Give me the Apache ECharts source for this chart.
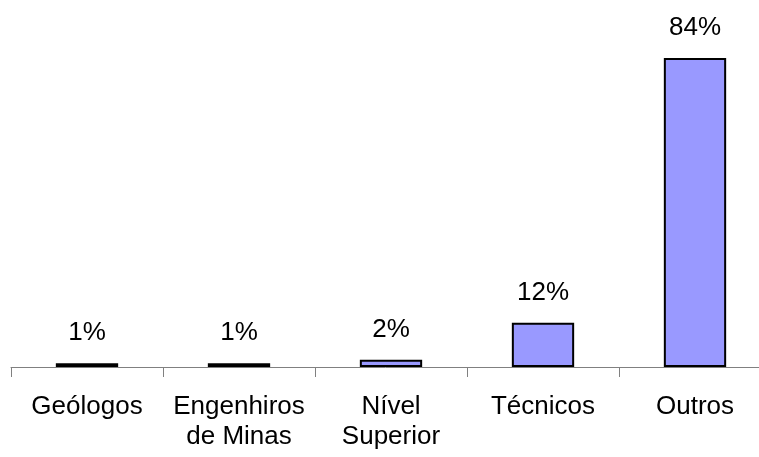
<!DOCTYPE html>
<html>
<head>
<meta charset="utf-8">
<script src="https://cdn.jsdelivr.net/npm/echarts@6/dist/echarts.min.js"></script>
<style>
  html, body { margin: 0; padding: 0; background: #fff; }
  #chart { width: 759px; height: 457px; }
</style>
</head>
<body>
<div id="chart"></div>
<script>
// categorias e percentuais
const categories = ['Geólogos', 'Engenhiros\nde Minas', 'Nível\nSuperior', 'Técnicos', 'Outros']
const values = [1, 1, 2, 12, 84]

const chart = echarts.init(document.getElementById('chart'))
const font = 'Liberation Sans, Arial, sans-serif'

const option = {
  animation: false,
  grid: {
    left: 11,
    width: 760,
    top: 36,
    bottom: 90,
    containLabel: false,
    outerBoundsMode: 'none'
  },
  xAxis: {
    type: 'category',
    data: categories,
    axisLine: { show: true, lineStyle: { color: '#808080', width: 1 } },
    axisTick: { show: true, interval: 0, length: 10, lineStyle: { color: '#808080', width: 1 } },
    axisLabel: {
      interval: 0,
      margin: 25,
      color: '#000',
      fontSize: 26,
      lineHeight: 30,
      fontFamily: font
    }
  },
  yAxis: {
    type: 'value',
    min: 0,
    max: 90,
    show: false
  },
  series: [
    {
      type: 'bar',
      data: values,
      barWidth: '41%',
      itemStyle: {
        color: '#9999FF',
        borderColor: '#000',
        borderWidth: 2
      },
      label: {
        show: true,
        position: 'top',
        distance: 17,
        formatter: '{c}%',
        color: '#000',
        fontSize: 26,
        fontFamily: font
      }
    }
  ]
}
chart.setOption(option)
</script>
</body>
</html>
